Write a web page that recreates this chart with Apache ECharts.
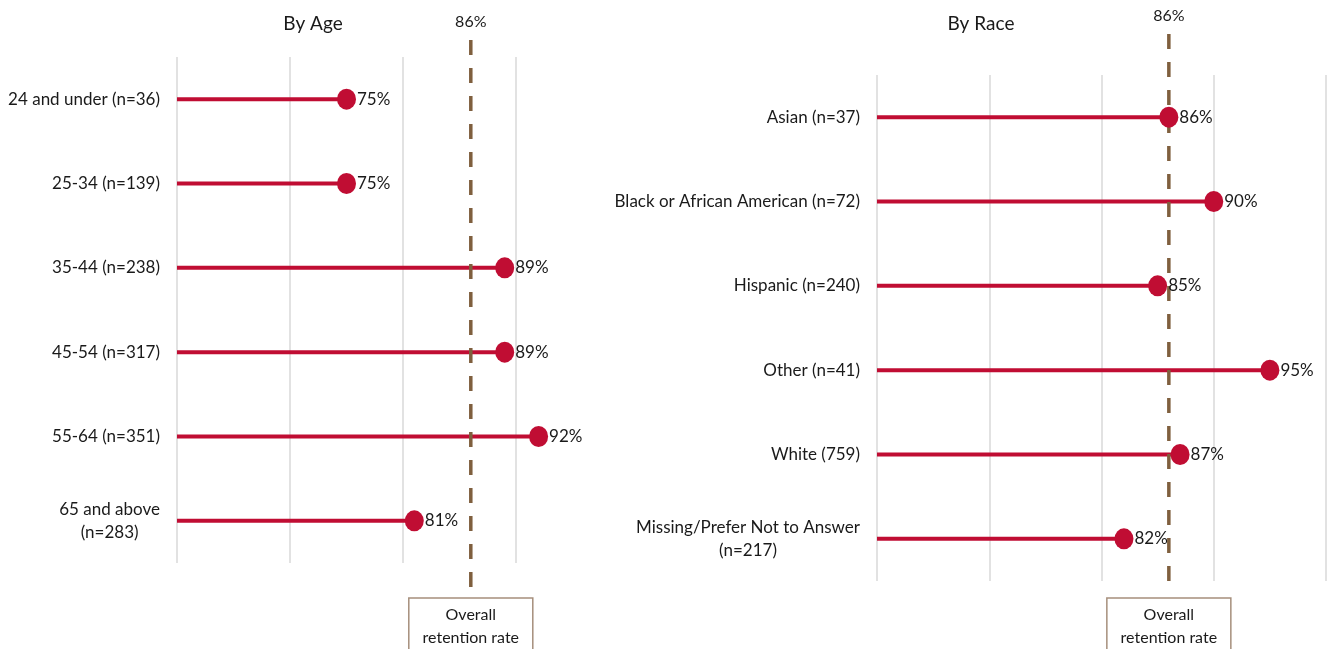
<!DOCTYPE html>
<html>
<head>
<meta charset="utf-8">
<script src="https://cdn.jsdelivr.net/npm/echarts@6/dist/echarts.min.js"></script>
<style>
  html, body { margin: 0; padding: 0; background: #ffffff; }
  #chart { width: 1331px; height: 649px; }
</style>
</head>
<body>
<div id="chart"></div>
<script>
// Retention rates by age group and by race, with the overall rate as reference
const ageCategories = ['24 and under (n=36)', '25-34 (n=139)', '35-44 (n=238)', '45-54 (n=317)', '55-64 (n=351)', '65 and above\n(n=283)'];
const ageRates = [75, 75, 89, 89, 92, 81];
const raceCategories = ['Asian (n=37)', 'Black or African American (n=72)', 'Hispanic (n=240)', 'Other (n=41)', 'White (759)', 'Missing/Prefer Not to Answer\n(n=217)'];
const raceRates = [86, 90, 85, 95, 87, 82];
const overallRate = [86];
const panelTitles = ['By Age', 'By Race'];
const refBoxLines = ['Overall', 'retention rate'];
const axisMin = 60, axisMax = 100, axisStep = 10;

const FONT = 'Lato, "Liberation Sans", sans-serif';
const RED = '#c00d33';
const BROWN = '#7f5f3e';
const TEXT = '#1a1a1a';

const panels = [
  { left: 177, width: 452, top: 57, lineTop: 40, lineBottom: 587, labelY: 22, showMax: false },
  { left: 877, width: 449, top: 75, lineTop: 34, lineBottom: 590, labelY: 16, showMax: true }
];
const gridHeight = 506;

// dashed reference line, its value on top and the caption box beneath
function refRenderer(p) {
  return function (params, api) {
    const v = api.value(0);
    const x = api.coord([v, 0])[0];
    return {
      type: 'group',
      children: [
        { type: 'line', shape: { x1: x, y1: p.lineTop, x2: x, y2: p.lineBottom },
          style: { stroke: BROWN, lineWidth: 3.5, lineDash: [15, 13] } },
        { type: 'text', x: x, y: p.labelY,
          style: { text: v + '%', fill: TEXT, font: '16px ' + FONT, align: 'center', verticalAlign: 'middle' } },
        { type: 'rect', shape: { x: x - 62, y: 598, width: 124, height: 70 },
          style: { fill: '#ffffff', stroke: '#a68f7c', lineWidth: 1.5 } },
        { type: 'text', x: x, y: 626,
          style: { text: refBoxLines.join('\n'), fill: TEXT, font: '16px ' + FONT, align: 'center', verticalAlign: 'middle', lineHeight: 23 } }
      ]
    };
  };
}

const catSets = [ageCategories, raceCategories];
const rateSets = [ageRates, raceRates];

const option = {
  animation: false,
  title: panelTitles.map((t, i) => ({
    text: t,
    left: i === 0 ? 308 : 976,
    top: 9,
    textAlign: 'center',
    textStyle: { fontFamily: FONT, fontSize: 19, fontWeight: 'normal', color: TEXT }
  })),
  grid: panels.map(p => ({ left: p.left, width: p.width, top: p.top, height: gridHeight, containLabel: false, outerBoundsMode: 'none' })),
  xAxis: panels.map((p, i) => ({
    type: 'value', gridIndex: i, min: axisMin, max: axisMax, interval: axisStep,
    axisLabel: { show: false }, axisLine: { show: false }, axisTick: { show: false },
    splitLine: { show: true, showMinLine: true, showMaxLine: p.showMax, lineStyle: { color: '#d9d9d9', width: 1.5 } }
  })),
  yAxis: panels.map((p, i) => ({
    type: 'category', gridIndex: i, inverse: true, data: catSets[i],
    axisLine: { show: false }, axisTick: { show: false }, splitLine: { show: false },
    axisLabel: {
      margin: 17, color: TEXT, fontFamily: FONT, fontSize: 17, lineHeight: 23,
      formatter: v => v.split('\n').map(s => '{c|' + s + '}').join('\n'),
      rich: { c: { align: 'center', fontFamily: FONT, fontSize: 17, color: TEXT, lineHeight: 23 } }
    }
  })),
  series: []
};

panels.forEach((p, i) => {
  option.series.push({
    type: 'bar', xAxisIndex: i, yAxisIndex: i, data: rateSets[i],
    barWidth: 4, itemStyle: { color: RED }, silent: true, z: 2
  });
  option.series.push({
    type: 'scatter', xAxisIndex: i, yAxisIndex: i,
    data: rateSets[i].map((v, k) => [v, k]),
    symbol: 'circle', symbolSize: [19, 21], itemStyle: { color: RED, opacity: 1 }, z: 4,
    label: { show: true, position: 'right', distance: 1, formatter: d => d.value[0] + '%',
      color: TEXT, opacity: 1, fontFamily: FONT, fontSize: 17 }
  });
  option.series.push({
    type: 'custom', xAxisIndex: i, yAxisIndex: i, data: overallRate.map(v => [v, 0]),
    renderItem: refRenderer(p), clip: false, z: 3, silent: true
  });
});

const chart = echarts.init(document.getElementById('chart'), null, { renderer: 'canvas' });
chart.setOption(option);
</script>
</body>
</html>
